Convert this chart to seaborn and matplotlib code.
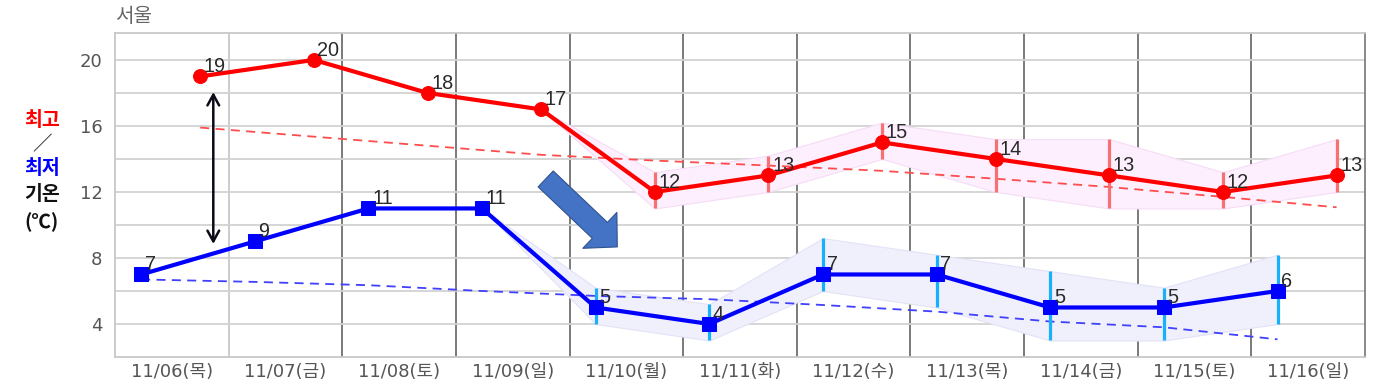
import numpy as np
import pandas as pd
import matplotlib
matplotlib.use("Agg")
import matplotlib.pyplot as plt
import seaborn as sns

# ---------------- data ----------------
dates = ["11/06(목)", "11/07(금)", "11/08(토)", "11/09(일)", "11/10(월)", "11/11(화)",
         "11/12(수)", "11/13(목)", "11/14(금)", "11/15(토)", "11/16(일)"]
t_max = [19, 20, 18, 17, 12, 13, 15, 14, 13, 12, 13]
t_min = [7, 9, 11, 11, 5, 4, 7, 7, 5, 5, 6]

# normal (climatological) temperatures - dashed lines
normal_max = [15.9, 15.35, 14.8, 14.25, 13.9, 13.6, 13.28, 12.8, 12.3, 11.7, 11.07]
normal_min = [6.7, 6.55, 6.35, 6.0, 5.7, 5.5, 5.15, 4.75, 4.15, 3.8, 3.07]

# forecast spread (error bars / bands), NaN where not shown
max_lo = [np.nan, np.nan, np.nan, 17, 11.0, 12.0, 14.0, 12.0, 11.0, 11.0, 12.0]
max_hi = [np.nan, np.nan, np.nan, 17, 13.2, 14.2, 16.2, 15.2, 15.2, 13.2, 15.2]
min_lo = [np.nan, np.nan, np.nan, 11, 4.0, 3.0, 6.0, 5.0, 3.0, 3.0, 4.0]
min_hi = [np.nan, np.nan, np.nan, 11, 6.2, 5.2, 9.2, 8.2, 7.2, 6.2, 8.2]
bar_start = 4  # error bars shown from 11/10

y_ticks = [4, 8, 12, 16, 20]
y_minor = [6, 10, 14, 18]

# ---------------- style ----------------
sns.set_theme(style="white")
plt.rcParams["font.family"] = ["DejaVu Sans", "Noto Sans CJK KR"]
KR = ["Noto Sans CJK KR", "DejaVu Sans"]

W, H = 1378, 390
fig = plt.figure(figsize=(W / 100, H / 100), dpi=100)
ax = fig.add_axes([115 / W, 33 / H, 1250 / W, 323.5 / H])

idx = np.arange(len(dates))
off_max, off_min = 0.25, -0.27
x_max = idx + off_max
x_min = idx + off_min

df = pd.DataFrame({"x_max": x_max, "x_min": x_min, "t_max": t_max, "t_min": t_min,
                   "n_max": normal_max, "n_min": normal_min,
                   "max_lo": max_lo, "max_hi": max_hi, "min_lo": min_lo, "min_hi": min_hi})

ax.set_xlim(-0.5, 10.5)
ax.set_ylim(2, 21.6)

# grid
ax.set_yticks(y_ticks)
ax.set_yticks(y_minor, minor=True)
ax.grid(axis="y", which="both", color="#d2d2d2", lw=1.3, zorder=0)
for i in range(len(dates) - 1):
    ax.axvline(i + 0.5, color="#c8c8c8" if i == 0 else "#707070", lw=1.3, zorder=0)

for s in ["left", "top", "bottom"]:
    ax.spines[s].set_color("#c8c8c8")
    ax.spines[s].set_linewidth(1.3)
ax.spines["right"].set_color("#808080")
ax.spines["right"].set_linewidth(1.3)

# bands
ax.fill_between(df["x_max"], df["max_lo"], df["max_hi"], color="#fdeffd",
                edgecolor="#f6dcf6", lw=0.8, zorder=1)
ax.fill_between(df["x_min"], df["min_lo"], df["min_hi"], color="#f0f0fd",
                edgecolor="#e2e2f8", lw=0.8, zorder=1)

# normal lines (dashed)
sns.lineplot(data=df, x="x_max", y="n_max", ax=ax, color="#ff4d4d", lw=1.3,
             linestyle=(0, (5, 3.5)), zorder=2)
sns.lineplot(data=df, x="x_min", y="n_min", ax=ax, color="#4040ff", lw=1.3,
             linestyle=(0, (5, 3.5)), zorder=2)

# error bars
sub = df.iloc[bar_start:]
ax.vlines(sub["x_max"], sub["max_lo"], sub["max_hi"], color="#f47272", lw=2.3, zorder=3)
ax.vlines(sub["x_min"], sub["min_lo"], sub["min_hi"], color="#18b0f8", lw=2.3, zorder=3)

# main lines
sns.lineplot(data=df, x="x_max", y="t_max", ax=ax, color="#ff0000", lw=3.0, marker="o",
             markersize=10, markeredgecolor="#ff0000", zorder=4)
sns.lineplot(data=df, x="x_min", y="t_min", ax=ax, color="#0000ff", lw=3.0, marker="s",
             markersize=10.5, markeredgecolor="#0000ff", zorder=4)

# value labels
for xs, ys in ((x_max, t_max), (x_min, t_min)):
    for xv, v in zip(xs, ys):
        ax.annotate(str(v), (xv, v), xytext=(2.6, 2.9), textcoords="offset points",
                    ha="left", va="baseline", fontsize=14.3, color="#2a2a2a",
                    family=["Liberation Sans", "DejaVu Sans"], zorder=5)

# ticks
ax.set_xticks(idx)
ax.set_xticklabels(dates)
ax.set_yticklabels([str(t) for t in y_ticks])
ax.tick_params(axis="both", which="both", length=0, labelsize=13, colors="#555555")
ax.tick_params(axis="x", pad=4)
ax.tick_params(axis="y", pad=9)
ax.set_xlabel("")
ax.set_ylabel("")

# annotations: double arrow and big blue arrow
ax.annotate("", xy=(0.365, 18.05), xytext=(0.365, 8.85),
            arrowprops=dict(arrowstyle="<->,head_length=0.55,head_width=0.3",
                            lw=1.8, color="#0a0a18", shrinkA=0, shrinkB=0,
                            mutation_scale=14), zorder=6)
ax.annotate("", xy=(3.92, 8.67), xytext=(3.29, 12.79),
            arrowprops=dict(arrowstyle="simple,head_length=17.3,head_width=35.6,tail_width=15.8",
                            mutation_scale=1, fc="#4472c4", ec="#2f528f", lw=0.8,
                            shrinkA=0, shrinkB=0), zorder=6)

# title and side label
fig.text(115 / W, 1 - 16 / H, "서울", fontsize=14.5, color="#666666", ha="left", va="center",
         family=KR)
side = [("최고", "#ff0000", 121), ("／", "#333333", 145), ("최저", "#0000ff", 168),
        ("기온", "#111111", 195), ("(℃)", "#111111", 222)]
for txt, col, yp in side:
    fig.text(42 / W, 1 - yp / H, txt, fontsize=14, color=col, ha="center", va="center",
             weight="bold", family=KR)

fig.savefig("out.png", dpi=100)
